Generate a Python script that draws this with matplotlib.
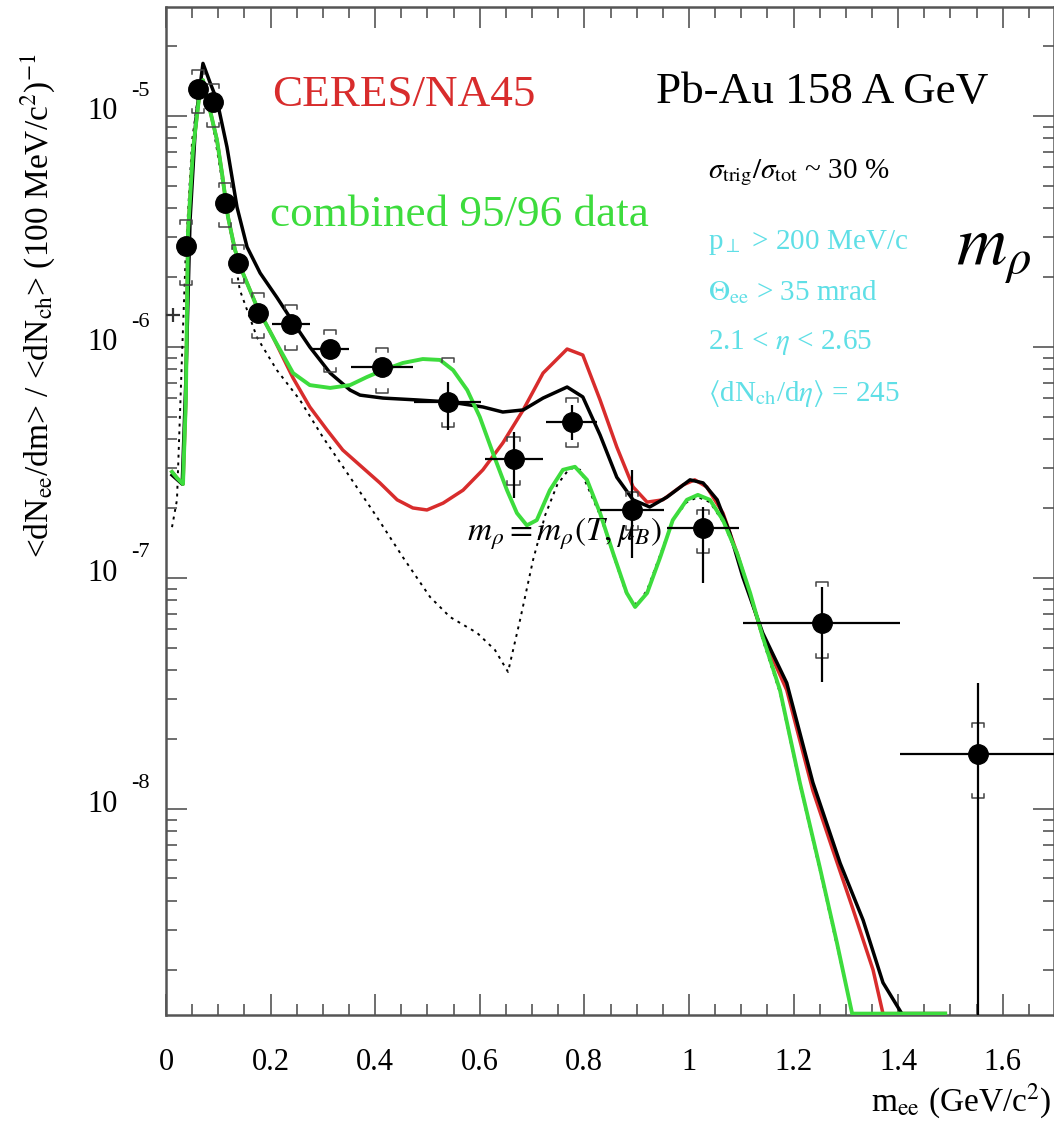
import numpy as np
import matplotlib
matplotlib.use("Agg")
import matplotlib.pyplot as plt
from matplotlib.ticker import MultipleLocator, LogLocator, NullFormatter, FuncFormatter

plt.rcParams['font.family'] = ['Liberation Serif', 'DejaVu Serif']
plt.rcParams['mathtext.fontset'] = 'stix'

# cocktail (dotted)
x_cocktail = [0.0115, 0.021, 0.031, 0.038, 0.050, 0.063, 0.0707, 0.088, 0.107, 0.126, 0.141,
              0.174, 0.212, 0.256, 0.300, 0.352, 0.403, 0.453, 0.505, 0.543, 0.595, 0.629,
              0.654, 0.677, 0.702, 0.725, 0.748, 0.772, 0.792, 0.830, 0.855, 0.881, 0.901,
              0.920, 0.945, 0.969, 0.996, 1.017, 1.040, 1.065, 1.092, 1.117, 1.141, 1.174,
              1.212, 1.250, 1.283, 1.312]
y_cocktail = [1.66e-7, 2.18e-7, 9.7e-7, 2.63e-6, 7.87e-6, 1.30e-5, 1.40e-5, 9.61e-6, 5.28e-6,
              2.90e-6, 1.77e-6, 1.10e-6, 7.94e-7, 5.90e-7, 4.07e-7, 2.73e-7, 1.84e-7, 1.23e-7,
              8.27e-8, 6.78e-8, 5.78e-8, 4.88e-8, 3.92e-8, 6.58e-8, 1.20e-7, 1.87e-7, 2.53e-7,
              2.99e-7, 2.94e-7, 1.87e-7, 1.26e-7, 8.44e-8, 7.64e-8, 8.87e-8, 1.26e-7, 1.78e-7,
              2.13e-7, 2.24e-7, 2.13e-7, 1.75e-7, 1.26e-7, 8.44e-8, 5.40e-8, 3.18e-8, 1.27e-8,
              5.45e-9, 2.55e-9, 1.31e-9]

# black solid
x_black = [0.0115, 0.031, 0.038, 0.046, 0.057, 0.0707, 0.084, 0.0975, 0.1166, 0.1358, 0.155,
           0.180, 0.212, 0.243, 0.275, 0.314, 0.352, 0.371, 0.415, 0.480, 0.543, 0.606, 0.644,
           0.683, 0.721, 0.767, 0.797, 0.830, 0.862, 0.893, 0.925, 0.958, 1.002, 1.027, 1.054,
           1.078, 1.103, 1.141, 1.187, 1.237, 1.289, 1.333, 1.371, 1.407, 1.49]
y_black = [2.79e-7, 2.55e-7, 7.19e-7, 3.55e-6, 9.61e-6, 1.69e-5, 1.40e-5, 1.17e-5, 7.34e-6,
           4.03e-6, 2.71e-6, 2.09e-6, 1.64e-6, 1.28e-6, 1.0e-6, 7.71e-7, 6.51e-7, 6.19e-7,
           6.01e-7, 5.90e-7, 5.78e-7, 5.50e-7, 5.23e-7, 5.34e-7, 6.01e-7, 6.71e-7, 6.08e-7,
           4.16e-7, 2.73e-7, 2.18e-7, 2.03e-7, 2.24e-7, 2.66e-7, 2.58e-7, 2.18e-7, 1.57e-7,
           1.01e-7, 5.78e-8, 3.51e-8, 1.30e-8, 5.83e-9, 3.30e-9, 1.77e-9, 1.30e-9, 1.30e-9]

# red solid
x_red = [0.0115, 0.021, 0.0325, 0.038, 0.042, 0.0516, 0.065, 0.0707, 0.0841, 0.0975, 0.107,
         0.1185, 0.132, 0.147, 0.174, 0.205, 0.243, 0.275, 0.308, 0.338, 0.377, 0.409, 0.442,
         0.472, 0.499, 0.530, 0.568, 0.606, 0.644, 0.683, 0.721, 0.767, 0.797, 0.830, 0.862,
         0.893, 0.920, 0.950, 0.989, 1.011, 1.034, 1.065, 1.092, 1.141, 1.187, 1.237, 1.275,
         1.314, 1.352, 1.371, 1.49]
y_red = [2.88e-7, 2.71e-7, 2.55e-7, 5.9e-7, 3.12e-6, 7.13e-6, 1.30e-5, 1.43e-5, 1.06e-5, 7.87e-6,
         5.67e-6, 3.66e-6, 2.63e-6, 2.09e-6, 1.49e-6, 1.10e-6, 7.34e-7, 5.50e-7, 4.37e-7,
         3.58e-7, 2.99e-7, 2.58e-7, 2.18e-7, 2.01e-7, 1.97e-7, 2.11e-7, 2.40e-7, 2.94e-7,
         3.84e-7, 5.34e-7, 7.71e-7, 9.8e-7, 9.23e-7, 5.90e-7, 3.69e-7, 2.48e-7, 2.13e-7,
         2.18e-7, 2.53e-7, 2.66e-7, 2.48e-7, 1.91e-7, 1.28e-7, 5.6e-8, 3.27e-8, 1.2e-8,
         6.65e-9, 3.66e-9, 2.01e-9, 1.30e-9, 1.30e-9]

# green solid
x_green = [0.0115, 0.021, 0.0325, 0.038, 0.042, 0.0516, 0.065, 0.0707, 0.0841, 0.0975, 0.107,
           0.1185, 0.132, 0.147, 0.174, 0.205, 0.243, 0.275, 0.314, 0.352, 0.384, 0.415, 0.453,
           0.491, 0.524, 0.549, 0.576, 0.600, 0.625, 0.652, 0.671, 0.690, 0.709, 0.734, 0.759,
           0.782, 0.805, 0.830, 0.855, 0.881, 0.897, 0.920, 0.945, 0.969, 0.996, 1.017, 1.040,
           1.065, 1.092, 1.117, 1.141, 1.174, 1.212, 1.250, 1.283, 1.312, 1.49]
y_green = [2.88e-7, 2.71e-7, 2.55e-7, 5.9e-7, 3.12e-6, 7.13e-6, 1.30e-5, 1.43e-5, 1.06e-5,
           7.87e-6, 5.67e-6, 3.66e-6, 2.63e-6, 2.09e-6, 1.49e-6, 1.10e-6, 7.71e-7, 6.84e-7,
           6.65e-7, 6.84e-7, 7.41e-7, 7.94e-7, 8.53e-7, 8.87e-7, 8.79e-7, 7.94e-7, 6.51e-7,
           4.98e-7, 3.48e-7, 2.40e-7, 1.91e-7, 1.69e-7, 1.78e-7, 2.40e-7, 2.94e-7, 3.03e-7,
           2.66e-7, 1.91e-7, 1.28e-7, 8.61e-8, 7.49e-8, 8.61e-8, 1.23e-7, 1.78e-7, 2.18e-7,
           2.29e-7, 2.18e-7, 1.78e-7, 1.28e-7, 8.61e-8, 5.56e-8, 3.27e-8, 1.30e-8, 5.61e-9,
           2.63e-9, 1.30e-9, 1.30e-9]

# data points
data_x = [0.038, 0.061, 0.090, 0.113, 0.138, 0.176, 0.239, 0.314, 0.413, 0.539, 0.665, 0.776,
          0.891, 1.027, 1.254, 1.553]
data_y = [2.74e-6, 1.31e-5, 1.15e-5, 4.20e-6, 2.31e-6, 1.40e-6, 1.26e-6, 9.8e-7, 8.19e-7,
          5.78e-7, 3.27e-7, 4.73e-7, 1.97e-7, 1.64e-7, 6.38e-8, 1.73e-8]
data_xerr = [0.006, 0.006, 0.008, 0.008, 0.010, 0.014, 0.036, 0.036, 0.060, 0.064, 0.055, 0.049,
             0.062, 0.069, 0.150, 0.150]
stat_hi = [2.9e-6, 1.38e-5, 1.21e-5, 4.45e-6, 2.45e-6, 1.48e-6, 1.33e-6, 1.04e-6, 8.7e-7,
           7.05e-7, 4.28e-7, 5.61e-7, 2.94e-7, 2.03e-7, 9.14e-8, 3.51e-8]
stat_lo = [2.6e-6, 1.24e-5, 1.09e-5, 3.97e-6, 2.18e-6, 1.32e-6, 1.19e-6, 9.2e-7, 7.7e-7,
           4.37e-7, 2.22e-7, 3.96e-7, 1.22e-7, 9.5e-8, 3.55e-8, 1.0e-9]
sys_hi = [3.55e-6, 1.58e-5, 1.38e-5, 5.13e-6, 2.77e-6, 1.71e-6, 1.52e-6, 1.19e-6, 9.9e-7,
          8.95e-7, 4.07e-7, 6.01e-7, 2.36e-7, 1.97e-7, 9.6e-8, 2.35e-8]
sys_lo = [1.85e-6, 1.03e-5, 8.96e-6, 3.31e-6, 1.89e-6, 1.09e-6, 9.7e-7, 7.8e-7, 6.32e-7,
          4.51e-7, 2.53e-7, 3.69e-7, 1.61e-7, 1.28e-7, 4.51e-8, 1.12e-8]

# first bin: cross only
edge_x = [0.013]
edge_y = [1.38e-6]
edge_xerr = [0.013]
edge_yerr = [[0.10e-6], [0.10e-6]]

red = '#d82c2c'
green = '#3ddc3d'
cyan = '#5fdfe6'
axcol = '#555555'

fig = plt.figure(figsize=(10.54, 11.26), dpi=100)
ax = fig.add_axes([166/1054, 111/1126, 888/1054, 1008/1126])
ax.set_yscale('log')
ax.set_xlim(0, 1.698)
ax.set_ylim(10**-8.892, 10**-4.528)

ax.plot(x_cocktail, y_cocktail, color='black', lw=1.4, ls=(0, (1.5, 2.5)), zorder=2)
ax.plot(x_red, y_red, color=red, lw=2.5, zorder=3)
ax.plot(x_black, y_black, color='black', lw=2.5, zorder=4)
ax.plot(x_green, y_green, color=green, lw=2.8, zorder=5)

# systematic brackets
w = 0.012
f = 10**(-4/231)
for xc, hi, lo in zip(data_x, sys_hi, sys_lo):
    ax.plot([xc-w, xc-w, xc+w, xc+w], [hi*f, hi, hi, hi*f], color='#444444', lw=1.1, zorder=6)
    ax.plot([xc-w, xc-w, xc+w, xc+w], [lo/f, lo, lo, lo/f], color='#444444', lw=1.1, zorder=6)

yerr = [np.array(data_y) - np.array(stat_lo), np.array(stat_hi) - np.array(data_y)]
ax.errorbar(data_x, data_y, xerr=data_xerr, yerr=yerr, fmt='o', color='black', ms=14,
            elinewidth=1.6, capsize=0, zorder=7)
ax.errorbar(edge_x, edge_y, xerr=edge_xerr, yerr=edge_yerr, fmt='none', ecolor='#333333',
            elinewidth=1.6, capsize=0, zorder=7)

# axes style
for s in ax.spines.values():
    s.set_color(axcol)
    s.set_linewidth(1.8)
ax.xaxis.set_major_locator(MultipleLocator(0.2))
ax.xaxis.set_minor_locator(MultipleLocator(0.05))
ax.xaxis.set_major_formatter(FuncFormatter(lambda v, p: '%g' % round(v, 2)))
ax.yaxis.set_major_locator(LogLocator(base=10))
ax.yaxis.set_minor_locator(LogLocator(base=10, subs=np.arange(2, 10)))
ax.yaxis.set_major_formatter(NullFormatter())
ax.yaxis.set_minor_formatter(NullFormatter())
ax.tick_params(which='both', direction='in', top=True, right=True, color=axcol, width=1.2)
ax.tick_params(which='major', length=15)
ax.tick_params(which='minor', length=8)
ax.tick_params(axis='x', which='major', labelsize=22, pad=24)

for k in [-5, -6, -7, -8]:
    ax.annotate('10', xy=(0, 10.0**k), xycoords=('axes fraction', 'data'),
                xytext=(-35, 3), textcoords='offset points', ha='right', va='center', fontsize=22)
    ax.annotate('%d' % k, xy=(0, 10.0**k), xycoords=('axes fraction', 'data'),
                xytext=(-25, 18), textcoords='offset points', ha='left', va='center', fontsize=16)

fig.text(0.036, 0.729, r'<dN$_{\rm ee}$/dm> / <dN$_{\rm ch}$> (100 MeV/c$^{2}$)$^{-1}$',
         rotation=90, ha='center', va='center', fontsize=24)
fig.text(0.998, 0.013, r'm$_{\rm ee}$ (GeV/c$^{2}$)', ha='right', va='baseline', fontsize=24)

ax.text(0.120, 0.913, 'CERES/NA45', color=red, fontsize=32.5, transform=ax.transAxes,
        va='center')
ax.text(0.117, 0.794, 'combined 95/96 data', color=green, fontsize=32.5, transform=ax.transAxes,
        va='center')
ax.text(0.552, 0.916, 'Pb-Au 158 A GeV', color='black', fontsize=32.5, transform=ax.transAxes,
        va='center')
ax.text(0.610, 0.836, r'$\sigma_{\rm trig}/\sigma_{\rm tot}$ ~ 30 %', fontsize=21,
        transform=ax.transAxes, va='center')
ax.text(0.610, 0.766, r'p$_\perp$ > 200 MeV/c', color=cyan, fontsize=21, transform=ax.transAxes,
        va='center')
ax.text(0.610, 0.717, r'$\Theta_{\rm ee}$ > 35 mrad', color=cyan, fontsize=21,
        transform=ax.transAxes, va='center')
ax.text(0.610, 0.667, r'2.1 < $\eta$ < 2.65', color=cyan, fontsize=21, transform=ax.transAxes,
        va='center')
ax.text(0.610, 0.617, r'$\langle$dN$_{\rm ch}$/d$\eta\rangle$ = 245', color=cyan, fontsize=21,
        transform=ax.transAxes, va='center')
ax.text(0.890, 0.744, r'$m_{\rho}$', fontsize=50, transform=ax.transAxes, va='baseline')
ax.text(0.339, 0.471, r'$m_\rho = m_\rho(T, \mu_B)$', fontsize=24, transform=ax.transAxes,
        va='baseline', zorder=8)

fig.savefig('out.png', dpi=100)
